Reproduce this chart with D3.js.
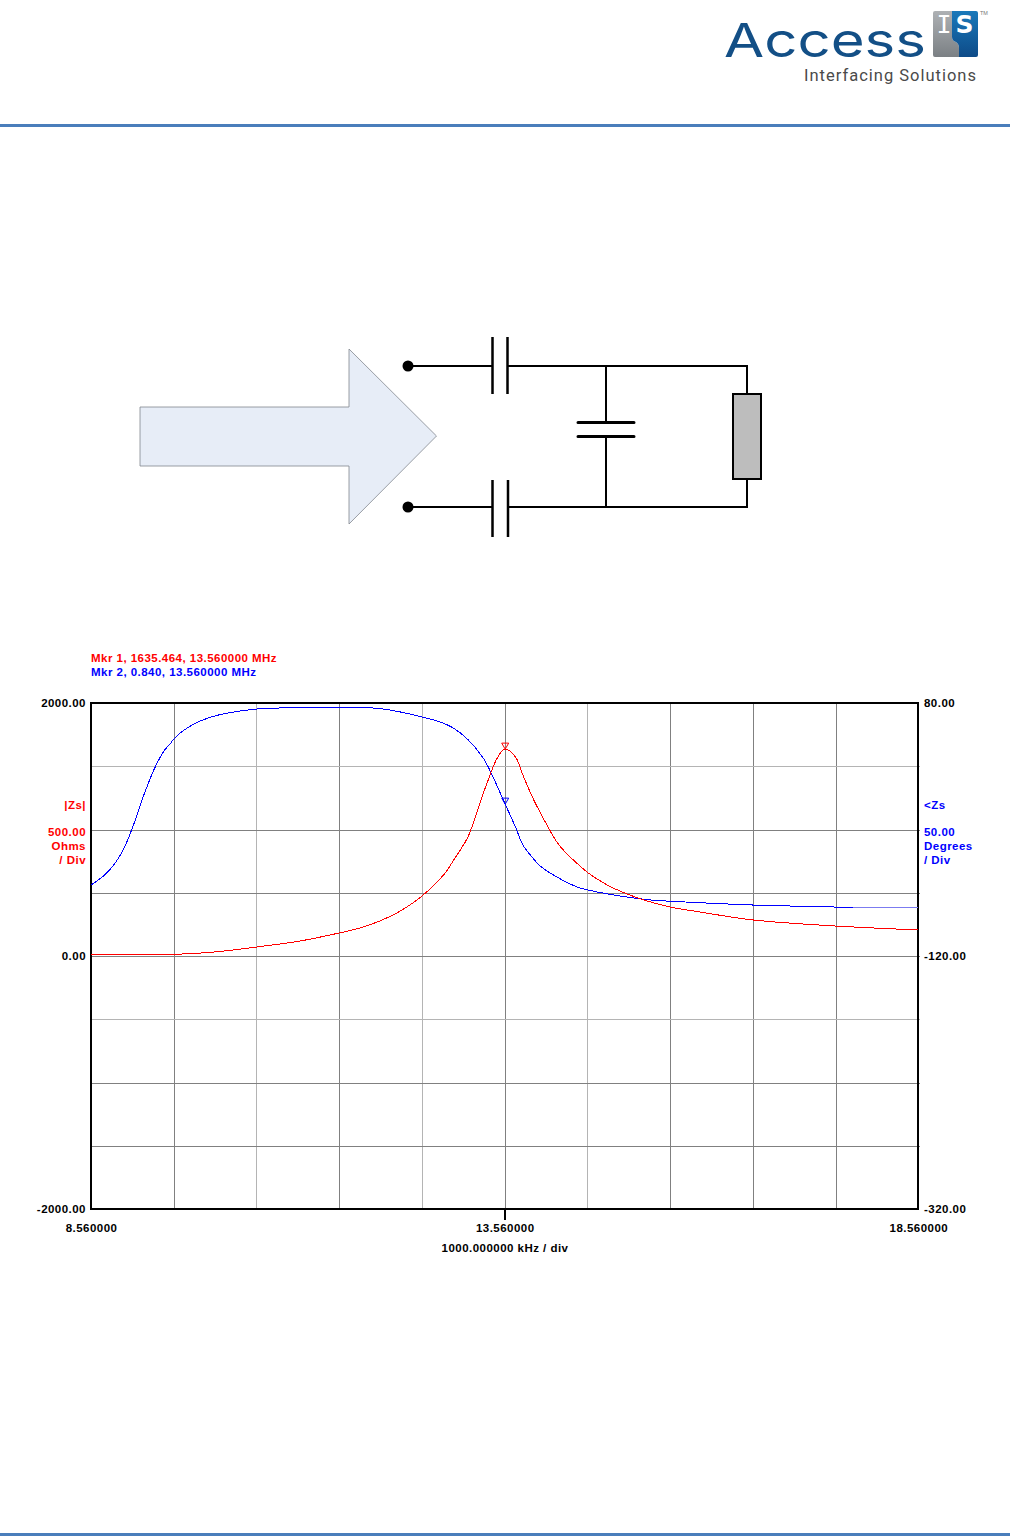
<!DOCTYPE html>
<html><head><meta charset="utf-8">
<script src="https://cdn.jsdelivr.net/npm/d3@7"></script>
<style>
html,body{margin:0;padding:0;background:#fff}
svg{display:block}
.lbl{font-family:"Liberation Sans",sans-serif;font-weight:700;font-size:11.5px;letter-spacing:.47px}
</style></head><body>
<svg id="c" width="1010" height="1536"></svg>
<script>
const freqZ=[8.56,9.56,10.06,10.56,11.09,11.56,11.81,12.05,12.30,12.56,12.82,12.96,13.11,13.18,13.26,13.36,13.47,13.56,13.69,13.78,13.90,14.07,14.19,14.29,14.39,14.57,14.80,15.04,15.28,15.56,15.92,16.56,17.56,18.56];
const magZ=[13,13,32,71,119,182,221,277,356,474,640,775,933,1051,1209,1391,1565,1635.464,1573,1431,1249,1036,901,822,759,656,561,490,435,387,348,285,237,206];
const freqP=[8.56,8.75,8.93,9.06,9.19,9.33,9.45,9.515,9.56,9.72,9.88,10.10,10.57,10.81,11.56,11.81,12.05,12.30,12.56,12.78,12.94,13.12,13.30,13.39,13.56,13.69,13.78,13.88,13.99,14.17,14.44,14.68,15.04,15.32,15.74,16.56,17.56,17.77,18.56];
const phaseZ=[-63.9,-54.4,-38.6,-18.8,5.7,28.6,42.8,47.5,51.5,60.2,65.8,70.5,75.3,76,76.8,76.6,75.6,72.9,68.9,65,60.2,50.8,36.5,25.5,0.84,-18,-32.3,-41,-48.9,-56.8,-65.5,-69.4,-73.4,-75.7,-77.3,-79.7,-81.3,-81.7,-81.7];
const xGrid=[9.56,10.56,11.56,12.56,13.56,14.56,15.56,16.56,17.56];
const xGridShade=["#808080","#b4b4b4","#808080","#b4b4b4","#808080","#b4b4b4","#808080","#808080","#808080"];
const yGrid=[1500,1000,500,0,-500,-1000,-1500];
const yGridShade=["#b4b4b4","#808080","#808080","#808080","#b4b4b4","#808080","#808080"];
const xTicks=[8.56,13.56,18.56];
const yLeftTicks=[2000,0,-2000];
const yRightTicks=[80,-120,-320];
const markerFreq=13.56, markerZ=1635.464, markerP=0.84;

const svg=d3.select("#c");
const x=d3.scaleLinear().domain([8.56,18.56]).range([91,918.4]);
const yL=d3.scaleLinear().domain([-2000,2000]).range([1209,703]);
const yR=d3.scaleLinear().domain([-320,80]).range([1209,703]);

/* header */
const logo=svg.append("g");
logo.append("rect").attr("x",0).attr("y",124).attr("width",1010).attr("height",3).attr("fill","#4a7ebb");
logo.append("rect").attr("x",0).attr("y",1533).attr("width",1010).attr("height",3).attr("fill","#4a7ebb");
logo.append("text").text("Access").attr("x",724).attr("y",57).attr("textLength",202).attr("lengthAdjust","spacingAndGlyphs")
  .attr("font-family","Inter").attr("font-weight",400).attr("font-size",47).attr("fill","#134f86");
const defs=svg.append("defs");
const g1=defs.append("linearGradient").attr("id","gr").attr("x1",0).attr("x2",0).attr("y1",0).attr("y2",1);
g1.append("stop").attr("offset",0).attr("stop-color","#aeb1b4");g1.append("stop").attr("offset",1).attr("stop-color","#7b8084");
const g2=defs.append("linearGradient").attr("id","bl").attr("x1",0).attr("x2",0).attr("y1",0).attr("y2",1);
g2.append("stop").attr("offset",0).attr("stop-color","#1a79ba");g2.append("stop").attr("offset",1).attr("stop-color","#0e4b88");
logo.append("path").attr("d","M935 11H952V37Q952 41 956 42Q959 44 959 48V57H935Q933 57 933 55V13Q933 11 935 11Z").attr("fill","url(#gr)");
logo.append("path").attr("d","M952 11H976Q978 11 978 13V55Q978 57 976 57H959V48Q959 44 956 42Q952 41 952 37Z").attr("fill","url(#bl)");
logo.append("text").text("S").attr("x",964.5).attr("y",33).attr("text-anchor","middle").attr("font-family","DejaVu Sans").attr("font-weight",700).attr("font-size",25).attr("fill","#fff").attr("textLength",18).attr("lengthAdjust","spacingAndGlyphs");
logo.append("text").text("I").attr("x",944).attr("y",33).attr("text-anchor","middle").attr("font-family","DejaVu Sans Mono").attr("font-size",25).attr("fill","#fff");
logo.append("text").text("TM").attr("x",980).attr("y",15).attr("font-family","Liberation Sans").attr("font-size",5.5).attr("fill","#777");
logo.append("text").text("Interfacing Solutions").attr("x",804).attr("y",81).attr("textLength",172).attr("lengthAdjust","spacing")
  .attr("font-family","Roboto").attr("font-size",16.5).attr("fill","#4a4a4a");

/* circuit */
const cir=svg.append("g").attr("fill","none").attr("stroke","#000").attr("stroke-width",2);
cir.append("path").attr("d","M140 407H349V349L436.5 436L349 524V466H140Z").attr("fill","#e7edf7").attr("stroke","#82868e").attr("stroke-width",.8);
cir.append("path").attr("d","M408 366H492M508 366H747V394M747 479V507H508M492 507H408M606 366V422M606 436V507");
cir.append("path").attr("d","M492.5 337V394M507.5 337V394M492.5 480V537M508 480V537").attr("stroke-width",2.5);
cir.append("path").attr("d","M578 422.5H634M578 436.5H634").attr("stroke-width",3).attr("stroke-linecap","round");
cir.append("rect").attr("x",733).attr("y",394).attr("width",28).attr("height",85).attr("fill","#bdbdbd");
[366,507].forEach(v=>cir.append("circle").attr("cx",408).attr("cy",v).attr("r",5.5).attr("fill","#000").attr("stroke","none"));

/* plot grid via axes */
const gx=svg.append("g").attr("transform","translate(0,1209)")
  .call(d3.axisBottom(x).tickValues(xGrid).tickSize(-506).tickFormat(""));
gx.select(".domain").remove();
gx.selectAll("line").attr("stroke",(d,i)=>xGridShade[i]).attr("shape-rendering","crispEdges");
const gy=svg.append("g").attr("transform","translate(91,0)")
  .call(d3.axisLeft(yL).tickValues(yGrid).tickSize(-829).tickFormat(""));
gy.select(".domain").remove();
gy.selectAll("line").attr("stroke",(d,i)=>yGridShade[i]).attr("shape-rendering","crispEdges");

svg.append("rect").attr("x",91).attr("y",703).attr("width",827).attr("height",506)
  .attr("fill","none").attr("stroke","#000").attr("stroke-width",2).attr("shape-rendering","crispEdges");

/* traces */
const pts=(a,b)=>a.map((f,i)=>[f,b[i]]);
const lineZ=d3.line().x(d=>x(d[0])).y(d=>yL(d[1])).curve(d3.curveCatmullRom.alpha(.5));
const lineP=d3.line().x(d=>x(d[0])).y(d=>yR(d[1])).curve(d3.curveCatmullRom.alpha(.5));
const pP=pts(freqP,phaseZ);
svg.append("path").attr("d",lineP(pP.filter(d=>d[0]<=17.77))).attr("fill","none").attr("stroke","#0000ff").attr("stroke-width",1).attr("shape-rendering","crispEdges");
svg.append("path").attr("d",lineP(pP.filter(d=>d[0]>=17.77))).attr("fill","none").attr("stroke","#7b7bf0").attr("stroke-width",1).attr("shape-rendering","crispEdges");
svg.append("path").attr("d",lineZ(pts(freqZ,magZ))).attr("fill","none").attr("stroke","#ff0000").attr("stroke-width",1).attr("shape-rendering","crispEdges");

/* markers */
const tri=(px,py,c)=>svg.append("path").attr("d",d3.line()([[px-3.5,py-5],[px+3.5,py-5],[px,py+1]])+"Z")
  .attr("fill","none").attr("stroke",c).attr("stroke-width",1);
tri(x(markerFreq)+.5,yL(markerZ)-1,"#ff0000");
tri(x(markerFreq)+.5,yR(markerP),"#0000ff");

/* axes text */
const bottom=svg.append("g").attr("transform","translate(0,1209)")
  .call(d3.axisBottom(x).tickValues(xTicks).tickSize(0).tickPadding(15).tickFormat(d=>d.toFixed(6)));
bottom.select(".domain").remove();
bottom.selectAll("text").attr("class","lbl").attr("fill","#000").attr("dy",".71em");
svg.append("line").attr("x1",x(13.56)+.5).attr("x2",x(13.56)+.5).attr("y1",1209).attr("y2",1220).attr("stroke","#000").attr("stroke-width",2).attr("shape-rendering","crispEdges");
const left=svg.append("g").attr("transform","translate(91,0)")
  .call(d3.axisLeft(yL).tickValues(yLeftTicks).tickSize(0).tickPadding(5).tickFormat(d=>d.toFixed(2)));
left.select(".domain").remove();
left.selectAll("text").attr("class","lbl").attr("fill","#000");
const right=svg.append("g").attr("transform","translate(918,0)")
  .call(d3.axisRight(yR).tickValues(yRightTicks).tickSize(0).tickPadding(6).tickFormat(d=>d.toFixed(2)));
right.select(".domain").remove();
right.selectAll("text").attr("class","lbl").attr("fill","#000");

const t=(s,px,py,c,a)=>svg.append("text").text(s).attr("class","lbl").attr("x",px).attr("y",py).attr("fill",c).attr("text-anchor",a||"start");
t("1000.000000 kHz / div",505,1252,"#000","middle");
t("Mkr 1, 1635.464, 13.560000 MHz",91,662,"#ff0000");
t("Mkr 2, 0.840, 13.560000 MHz",91,676,"#0000ff");
t("|Zs|",86,809,"#ff0000","end");
t("500.00",86,836,"#ff0000","end");
t("Ohms",86,850,"#ff0000","end");
t("/ Div",86,864,"#ff0000","end");
t("<Zs",924,809,"#0000ff");
t("50.00",924,836,"#0000ff");
t("Degrees",924,850,"#0000ff");
t("/ Div",924,864,"#0000ff");
</script>
</body></html>
